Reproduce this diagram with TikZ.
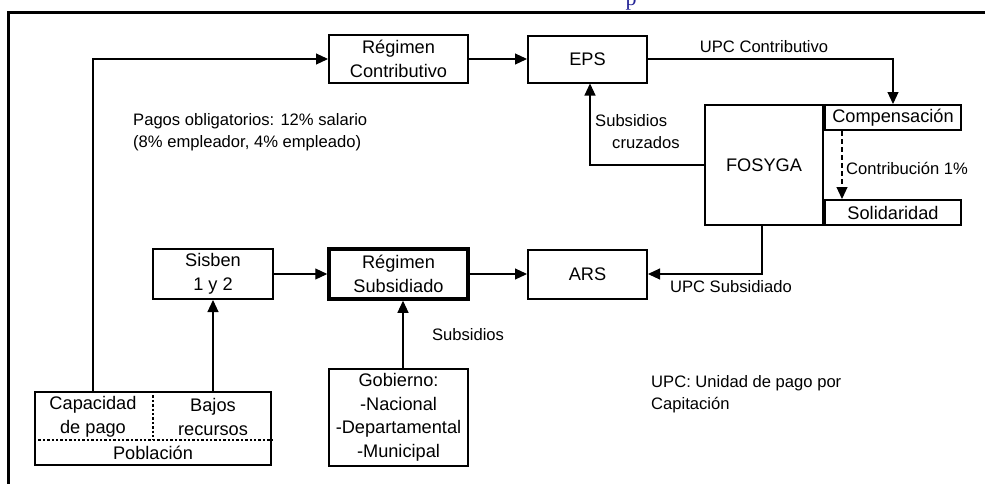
\documentclass[tikz,border=0pt]{standalone}
\usepackage{fontspec}
\setmainfont{Liberation Sans}
\newfontfamily\serifazul{Liberation Serif}
\usepackage{xcolor}
\usetikzlibrary{positioning}
\usetikzlibrary{arrows.meta}
\definecolor{azultitulo}{RGB}{35,35,150}

\begin{document}
\begin{tikzpicture}[x=1pt,y=-1pt,on grid,
        every node/.style={font=\fontsize{16.6}{22}\selectfont, align=center, inner sep=0pt},
        dentro/.style={font=\fontsize{18.2}{23.5}\selectfont},
        caja/.style={draw, dentro, line width=2pt, minimum width=139pt, minimum height=48pt},
        subcaja/.style={draw, dentro, line width=2pt, minimum width=136pt, minimum height=25pt},
        flecha/.style={line width=1.1pt, -{Triangle[length=12pt,width=11pt]}},
        rayado/.style={dash pattern=on 5pt off 3pt},
        punteado/.style={line width=2.4pt, dotted},
        marco/.style={line width=3pt}]

        \useasboundingbox (0,0) rectangle (985,483);

        \draw[marco] (990,12.5) -- (8,12.5) -- (8,490);
        \node[text=azultitulo, font=\serifazul\fontsize{22}{22}\selectfont, anchor=base] (titulo) at (631,5) {p};

        \node[caja] (RC) at (398.5,59) {Régimen\\Contributivo};
        \node[caja, minimum width=119pt, minimum height=47pt] (EPS) [right=189pt of RC] {EPS};

        \node[caja, minimum width=118pt, minimum height=120pt] (FOSYGA) at (764,165) {FOSYGA};
        \node[subcaja, anchor=north west] (Comp) at (FOSYGA.north east) {Compensación};
        \node[subcaja, anchor=south west] (Solid) at (FOSYGA.south east) {Solidaridad};

        \node[caja, minimum width=120pt, minimum height=50pt] (Sisben) at (213,274) {Sisben\\1 y 2};
        \node[caja, line width=3.5pt, minimum height=50pt] (RS) [right=185.5pt of Sisben] {Régimen\\Subsidiado};
        \node[caja, minimum width=119pt, minimum height=49pt] (ARS) [right=189pt of RS] {ARS};
        \node[caja, minimum height=97pt] (Gob) [below=143.5pt of RS] {Gobierno:\\-Nacional\\-Departamental\\-Municipal};

        \node[caja, minimum width=236pt, minimum height=73pt] (Pob) at (153,428.5) {};
        \node[dentro] (Cap) at (93,417) {Capacidad\\de pago};
        \node[dentro] (Bajos) at (213,417) {Bajos\\recursos};
        \node[dentro] (Pobl) at (153,452.5) {Población};
        \coordinate (corte) at (153,440);
        \draw[punteado] (Pob.west |- corte) -- (Pob.east |- corte);
        \draw[punteado] (Pob.north) -- (corte);

        \node[anchor=west, align=left] (pagos) at (133,132) {Pagos obligatorios: 12\% salario\\(8\% empleador, 4\% empleado)};
        \node[anchor=west, align=left] (cruzados) at (595,131.5) {Subsidios\\\hspace*{17pt}cruzados};
        \node (upcc) at (764,47) {UPC Contributivo};
        \node[anchor=west] (contrib) at (846,168) {Contribución 1\%};
        \node (upcs) at (731,287) {UPC Subsidiado};
        \node (subs) at (468,335) {Subsidios};
        \node[anchor=west, align=left] (nota) at (651,394) {UPC: Unidad de pago por\\Capitación};

        \draw[flecha] (Cap |- Pob.north) |- (RC);
        \draw[flecha] (RC) -- (EPS);
        \draw[flecha] (EPS) -| (Comp);
        \draw[flecha, rayado] ([xshift=-51pt]Comp.south) -- ([xshift=-51pt]Solid.north);
        \draw[flecha] (FOSYGA.west) -| ([xshift=2.5pt]EPS.south);
        \draw[flecha] ([xshift=-2pt]FOSYGA.south) |- (ARS);
        \draw[flecha] (Bajos |- Pob.north) -- (Sisben);
        \draw[flecha] (Sisben) -- (RS);
        \draw[flecha] (RS) -- (ARS);
        \draw[flecha] ([xshift=4.5pt]Gob.north) -- ([xshift=4.5pt]RS.south);

      \end{tikzpicture}
\end{document}
